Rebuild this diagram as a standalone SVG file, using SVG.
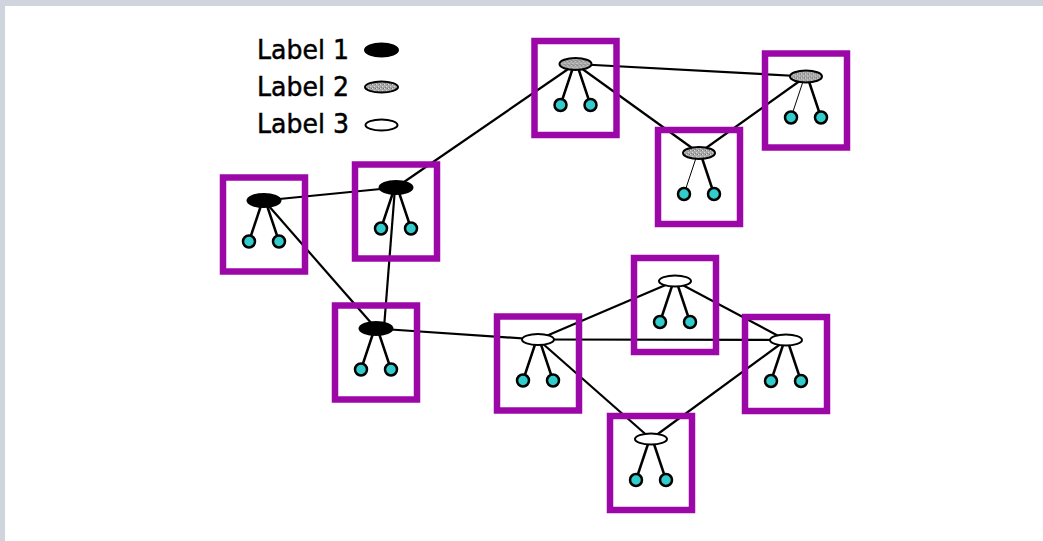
<svg xmlns="http://www.w3.org/2000/svg" width="1043" height="541" viewBox="0 0 1043 541">
<style>
.box{fill:none;stroke:#9c08a8;stroke-width:6.5}
.leg{stroke:#000;stroke-width:2.5;fill:none}
.thin{stroke:#000;stroke-width:1;fill:none}
.kid{fill:#33cccc;stroke:#000;stroke-width:2.5}
.e1{fill:#000;stroke:#000;stroke-width:2}
.e2{fill:url(#speck);stroke:#000;stroke-width:2}
.e3{fill:#fff;stroke:#000;stroke-width:2}
.edge{stroke:#000;stroke-width:2.2;fill:none}
.lbl{font-family:"DejaVu Sans","Liberation Sans",sans-serif;font-size:27px;fill:#000;stroke:#000;stroke-width:0.5}
</style>
<defs>
<pattern id="speck" width="4" height="4" patternUnits="userSpaceOnUse">
<rect width="4" height="4" fill="#a8a8a8"/>
<rect x="0" y="0" width="1" height="1" fill="#e0e0e0"/>
<rect x="2" y="2" width="1" height="1" fill="#d8d8d8"/>
<rect x="3" y="0" width="1" height="1" fill="#707070"/>
<rect x="1" y="3" width="1" height="1" fill="#808080"/>
</pattern>
</defs>
<rect x="0" y="0" width="1043" height="541" fill="#fff"/>
<rect x="0" y="0" width="1043" height="6" fill="#d0d4dc"/>
<rect x="0" y="0" width="5" height="541" fill="#d0d4dc"/>

<g id="legend">
<text class="lbl" x="257" y="59" textLength="92" lengthAdjust="spacingAndGlyphs">Label 1</text>
<text class="lbl" x="257" y="96" textLength="92" lengthAdjust="spacingAndGlyphs">Label 2</text>
<text class="lbl" x="257" y="133" textLength="92" lengthAdjust="spacingAndGlyphs">Label 3</text>
<ellipse class="e1" cx="381.5" cy="50" rx="16.5" ry="6.5"/>
<ellipse class="e2" cx="381.5" cy="87" rx="16.5" ry="5.5"/>
<ellipse class="e3" cx="381.5" cy="125" rx="16" ry="5.5"/>
</g>

<g id="connectors">
<line class="edge" x1="264" y1="200.5" x2="396" y2="187.5"/>
<line class="edge" x1="264" y1="200.5" x2="376" y2="328.5"/>
<line class="edge" x1="395" y1="188" x2="384" y2="328"/>
<line class="edge" x1="396" y1="187.5" x2="575.5" y2="64"/>
<line class="edge" x1="575.5" y1="64" x2="806" y2="76.5"/>
<line class="edge" x1="575.5" y1="64" x2="699" y2="153"/>
<line class="edge" x1="699" y1="153" x2="806" y2="76.5"/>
<line class="edge" x1="376" y1="328.5" x2="538" y2="339.5"/>
<line class="edge" x1="538" y1="339.5" x2="675" y2="281"/>
<line class="edge" x1="538" y1="339.5" x2="786" y2="340"/>
<line class="edge" x1="538" y1="339.5" x2="651" y2="439"/>
<line class="edge" x1="675" y1="281" x2="786" y2="340"/>
<line class="edge" x1="786" y1="340" x2="651" y2="439"/>
</g>

<g id="n1" transform="translate(223,177.5)">
<rect class="box" x="0" y="0" width="82" height="94"/>
<line class="leg" x1="38" y1="28" x2="26" y2="64"/><line class="leg" x1="44" y1="28" x2="56" y2="64"/>
<ellipse class="e1" cx="41" cy="23" rx="16.5" ry="6.5"/>
<circle class="kid" cx="26" cy="64" r="6"/><circle class="kid" cx="56" cy="64" r="6"/>
</g>
<g id="n2" transform="translate(355,164.5)">
<rect class="box" x="0" y="0" width="82" height="94"/>
<line class="leg" x1="38" y1="28" x2="26" y2="64"/><line class="leg" x1="44" y1="28" x2="56" y2="64"/>
<ellipse class="e1" cx="41" cy="23" rx="16.5" ry="6.5"/>
<circle class="kid" cx="26" cy="64" r="6"/><circle class="kid" cx="56" cy="64" r="6"/>
</g>
<g id="n3" transform="translate(335,305.5)">
<rect class="box" x="0" y="0" width="82" height="94"/>
<line class="leg" x1="38" y1="28" x2="26" y2="64"/><line class="leg" x1="44" y1="28" x2="56" y2="64"/>
<ellipse class="e1" cx="41" cy="23" rx="16.5" ry="6.5"/>
<circle class="kid" cx="26" cy="64" r="6"/><circle class="kid" cx="56" cy="64" r="6"/>
</g>
<g id="n4" transform="translate(534.5,41)">
<rect class="box" x="0" y="0" width="82" height="94"/>
<line class="leg" x1="38" y1="28" x2="26" y2="64"/><line class="leg" x1="44" y1="28" x2="56" y2="64"/>
<ellipse class="e2" cx="41" cy="23" rx="16" ry="6"/>
<circle class="kid" cx="26" cy="64" r="6"/><circle class="kid" cx="56" cy="64" r="6"/>
</g>
<g id="n5" transform="translate(658,130)">
<rect class="box" x="0" y="0" width="82" height="94"/>
<line class="thin" x1="38" y1="28" x2="26" y2="64"/><line class="leg" x1="44" y1="28" x2="56" y2="64"/>
<ellipse class="e2" cx="41" cy="23" rx="16" ry="6"/>
<circle class="kid" cx="26" cy="64" r="6"/><circle class="kid" cx="56" cy="64" r="6"/>
</g>
<g id="n6" transform="translate(765,53.5)">
<rect class="box" x="0" y="0" width="82" height="94"/>
<line class="thin" x1="38" y1="28" x2="26" y2="64"/><line class="leg" x1="44" y1="28" x2="56" y2="64"/>
<ellipse class="e2" cx="41" cy="23" rx="16" ry="6"/>
<circle class="kid" cx="26" cy="64" r="6"/><circle class="kid" cx="56" cy="64" r="6"/>
</g>
<g id="n7" transform="translate(634,258)">
<rect class="box" x="0" y="0" width="82" height="94"/>
<line class="leg" x1="38" y1="28" x2="26" y2="64"/><line class="leg" x1="44" y1="28" x2="56" y2="64"/>
<ellipse class="e3" cx="41" cy="23" rx="16" ry="5.5"/>
<circle class="kid" cx="26" cy="64" r="6"/><circle class="kid" cx="56" cy="64" r="6"/>
</g>
<g id="n8" transform="translate(497,316.5)">
<rect class="box" x="0" y="0" width="82" height="94"/>
<line class="leg" x1="38" y1="28" x2="26" y2="64"/><line class="leg" x1="44" y1="28" x2="56" y2="64"/>
<ellipse class="e3" cx="41" cy="23" rx="16" ry="5.5"/>
<circle class="kid" cx="26" cy="64" r="6"/><circle class="kid" cx="56" cy="64" r="6"/>
</g>
<g id="n9" transform="translate(745,317)">
<rect class="box" x="0" y="0" width="82" height="94"/>
<line class="leg" x1="38" y1="28" x2="26" y2="64"/><line class="leg" x1="44" y1="28" x2="56" y2="64"/>
<ellipse class="e3" cx="41" cy="23" rx="16" ry="5.5"/>
<circle class="kid" cx="26" cy="64" r="6"/><circle class="kid" cx="56" cy="64" r="6"/>
</g>
<g id="n10" transform="translate(610,416)">
<rect class="box" x="0" y="0" width="82" height="94"/>
<line class="leg" x1="38" y1="28" x2="26" y2="64"/><line class="leg" x1="44" y1="28" x2="56" y2="64"/>
<ellipse class="e3" cx="41" cy="23" rx="16" ry="5.5"/>
<circle class="kid" cx="26" cy="64" r="6"/><circle class="kid" cx="56" cy="64" r="6"/>
</g>
</svg>
